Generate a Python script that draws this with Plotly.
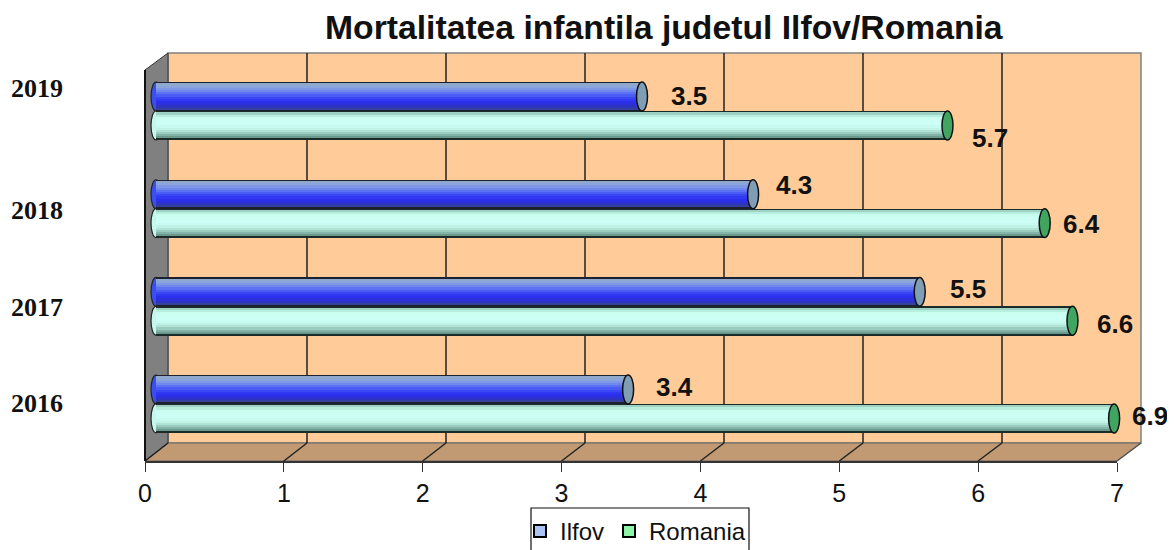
import plotly.graph_objects as go

# ---- data ----
years = ["2016", "2017", "2018", "2019"]
ilfov = [3.4, 5.5, 4.3, 3.5]
romania = [6.9, 6.6, 6.4, 5.7]
x_ticks = [0, 1, 2, 3, 4, 5, 6, 7]
title = "Mortalitatea infantila judetul Ilfov/Romania"

# ---- style ----
PAGE = 8                  # the page's own body margin
W, H = 1175 - PAGE, 550 - PAGE
ilfov_grad = ["#1c2030", "#8fa9cc", "#8ba4dc", "#7f98e6", "#7088ee", "#5c72f2", "#4a5cf4", "#3a48f4",
              "#3038f2", "#2c30ee", "#2c30dc", "#2e34c0", "#34409c", "#1c2030"]
rom_grad = ["#1c2a28", "#9ed2c4", "#b8eede", "#c8fdef", "#ccfff4", "#ccfff6", "#ccfff6", "#c8fbf0",
            "#c0f2e8", "#b0e2d6", "#9accc0", "#84b4a8", "#6a9a8e", "#1c2a28"]
bar_h = 0.296
ilfov_label_off = [(28, 3), (30, 3), (23, 9), (29, 1)]     # pixels: label start/centre vs bar end, by year
rom_label_off = [(18, 2), (25, -3), (18, -1), (25, -13)]
year_label_y = [403, 307, 211, 88]

def px(x):
    return (x - PAGE) / W
def py(y):
    return 1 - (y - PAGE) / H

FX0, FX1, FY = 145, 1117, 461        # front floor edge
BX0, BX1, BYB, BYT = 168, 1141, 443, 53   # back wall
FYT = 70
unit = (FX1 - FX0) / 7
bar_x0 = FX0 + 11       # pixel of value 0 for the bars
pad = 0.5               # axis room left of 0, for the rounded bar starts

shapes = [
    dict(type="rect", xref="paper", yref="paper", x0=px(BX0), x1=px(BX1), y0=py(BYB), y1=py(BYT),
         fillcolor="#FFCC99", line=dict(color="#808080", width=1.5), layer="below"),
    dict(type="path", xref="paper", yref="paper", layer="below",
         path=f"M {px(FX0)} {py(FY)} L {px(FX1)} {py(FY)} L {px(BX1)} {py(BYB)} L {px(BX0)} {py(BYB)} Z",
         fillcolor="#C19A73", line=dict(color="#666666", width=1)),
    dict(type="path", xref="paper", yref="paper", layer="below",
         path=f"M {px(FX0)} {py(FY)} L {px(FX0)} {py(FYT)} L {px(BX0)} {py(BYT)} L {px(BX0)} {py(BYB)} Z",
         fillcolor="#808080", line=dict(color="#333333", width=1)),
    dict(type="line", xref="paper", yref="paper", layer="below", x0=px(FX0), x1=px(FX0), y0=py(FY), y1=py(FYT),
         line=dict(color="#111111", width=2)),
    dict(type="line", xref="paper", yref="paper", layer="below", x0=px(BX1), x1=px(FX1), y0=py(BYB), y1=py(FY),
         line=dict(color="#555555", width=1.5)),
]
n = x_ticks[-1]
for t in x_ticks[:-1]:
    bx = BX0 + (BX1 - BX0) * t / n
    fx = FX0 + (FX1 - FX0) * t / n
    if t:
        shapes.append(dict(type="line", xref="paper", yref="paper", layer="below", x0=px(bx), x1=px(bx),
                           y0=py(BYB), y1=py(BYT), line=dict(color="#222222", width=1.5)))
    shapes.append(dict(type="line", xref="paper", yref="paper", layer="below", x0=px(fx), x1=px(bx),
                       y0=py(FY), y1=py(BYB), line=dict(color="#222222", width=1.5)))

# legend box
shapes.append(dict(type="rect", xref="paper", yref="paper", x0=px(531), x1=px(749), y0=py(552), y1=py(508),
                   fillcolor="white", line=dict(color="#111111", width=1.2), layer="below"))

rows = list(range(len(years)))
fig = go.Figure()

# invisible trace that keeps the front (tick) axis on the page
fig.add_trace(go.Scatter(x=[x_ticks[0], x_ticks[-1]], y=[None, None], xaxis="x", yaxis="y", showlegend=False,
                         hoverinfo="skip", mode="markers"))

def add_series(name, vals, grad, top, cap, capleft):
    k = len(grad)
    for i, c in enumerate(grad):
        if i == k - 1:
            off = top - bar_h * 0.955
            size = bar_h * 0.045
        elif i == 0:
            off = top
            size = bar_h
        else:
            off = top - bar_h * (0.045 + 0.91 * (i - 1) / (k - 2))
            size = bar_h + off - top
        fig.add_trace(go.Bar(x=vals, y=rows, orientation="h", base=0, xaxis="x2", yaxis="y",
                             offset=off - size, width=size, marker=dict(color=c, line=dict(width=0)),
                             name=name, showlegend=False, hoverinfo="x+name"))
    for r, v in zip(rows, vals):
        y0, y1 = r + top - bar_h, r + top
        shapes.append(dict(type="circle", xref="x2", yref="y", xsizemode="pixel", xanchor=v, x0=-5.5, x1=5.5,
                           y0=y0, y1=y1, fillcolor=cap, line=dict(color="#111111", width=1.5), layer="above"))
        shapes.append(dict(type="circle", xref="x2", yref="y", xsizemode="pixel", xanchor=0, x0=-5, x1=5,
                           y0=y0, y1=y1, fillcolor=capleft, line=dict(color="#222222", width=1.2), layer="below"))

add_series("Ilfov", ilfov, ilfov_grad, bar_h, "#7F9DB5", "#3A50EE")
add_series("Romania", romania, rom_grad, 0, "#3FA560", "#C4F8EC")

# legend entries
fig.add_trace(go.Bar(x=[None], y=[None], name="Ilfov", xaxis="x2", yaxis="y",
                     marker=dict(color="#A9C4F5", line=dict(color="#000000", width=2))))
fig.add_trace(go.Bar(x=[None], y=[None], name="Romania", xaxis="x2", yaxis="y",
                     marker=dict(color="#8CF5A8", line=dict(color="#000000", width=2))))

annotations = [dict(text=f"<b>{title}</b>", xref="paper", yref="paper", x=px(664), y=py(27), showarrow=False,
                    yanchor="middle", font=dict(family="Liberation Sans", size=33.7, color="#111111"))]
for lab, yy in zip(years, year_label_y):
    annotations.append(dict(text=f"<b>{lab}</b>", xref="paper", yref="paper", x=px(9), y=py(yy), xanchor="left",
                            yanchor="middle", showarrow=False,
                            font=dict(family="Liberation Serif", size=26, color="#111111")))
for vals, offs, top in ((ilfov, ilfov_label_off, bar_h / 2), (romania, rom_label_off, -bar_h / 2)):
    for r, v, (dx, dy) in zip(rows, vals, offs):
        annotations.append(dict(text=f"<b>{v}</b>", x=v, y=r + top, xref="x2", yref="y", xanchor="left",
                                yanchor="middle", showarrow=False, xshift=dx - 2, yshift=dy,
                                font=dict(family="Liberation Sans", size=26, color="#111111")))

fig.update_layout(
    width=W, height=H, autosize=False, margin=dict(l=0, r=0, t=0, b=0, pad=0, autoexpand=False),
    paper_bgcolor="white", plot_bgcolor="rgba(0,0,0,0)", barmode="overlay", bargap=0,
    font=dict(family="Liberation Sans", color="#111111"),
    xaxis=dict(domain=[px(FX0), px(FX1)], range=[x_ticks[0], x_ticks[-1]], tickvals=x_ticks, ticks="outside",
               ticklen=9, tickwidth=1.2, tickcolor="#333333", showgrid=False, zeroline=False,
               showline=True, linecolor="#333333", linewidth=1.5, anchor="y",
               tickfont=dict(size=25, family="Liberation Sans", color="#111111")),
    xaxis2=dict(domain=[px(bar_x0 - pad * unit), px(FX1 + 11)], range=[-pad, x_ticks[-1]], visible=False, anchor="y"),
    yaxis=dict(domain=[py(FY), py(FYT)], range=[-0.584, 3.42], visible=False, fixedrange=True),
    shapes=shapes, annotations=annotations,
    legend=dict(orientation="h", x=px(520), y=py(509), xanchor="left", yanchor="top", bgcolor="rgba(0,0,0,0)",
                font=dict(size=24, family="Liberation Sans", color="#111111"), traceorder="normal", itemwidth=30),
    bargroupgap=0,
)
fig.write_html("out.html")
